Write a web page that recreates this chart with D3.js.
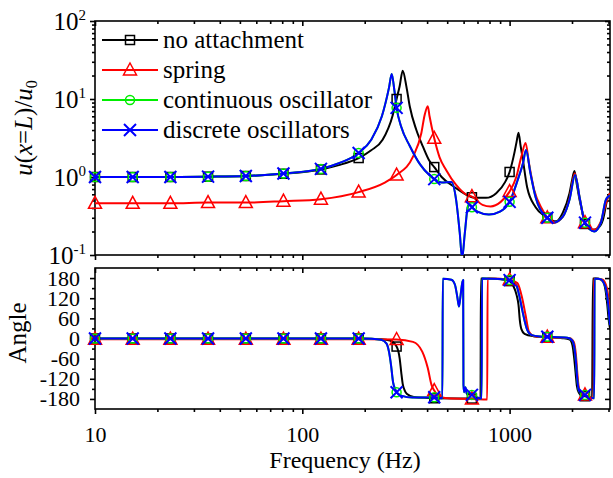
<!DOCTYPE html>
<html>
<head>
<meta charset="utf-8">
<script src="https://cdn.jsdelivr.net/npm/d3@7"></script>
<style>
  html, body { margin: 0; padding: 0; background: #fff; }
  svg { display: block; }
</style>
</head>
<body>
<svg id="chart" width="613" height="478" font-family="'Liberation Serif', 'Times New Roman', Tinos, 'DejaVu Serif', serif"></svg>
<script>
// ---- Series: [frequency (Hz), value] ----
const seriesNames = ["no attachment", "spring", "continuous oscillator", "discrete oscillators"];
const seriesColors = ["#000000", "#ff0000", "#00ee00", "#0000ff"];

// Frequencies carrying a symbol on every curve
const markerFreqs = [10, 15.2, 23.1, 35.1, 53.4, 81.1, 123, 187, 285, 433, 658, 1000, 1520, 2310];

// Normalised tip displacement u(x=L)/u0
const ampNoAttachment = [
  [10,1.00],[15.2,1.00],[23.1,1.00],[35.1,1.01],[53.4,1.03],[81.1,1.10],[123,1.25],[150,1.42],[187,1.75],
  [215,2.2],[244,3.0],[273,6.2],[285,10.0],[295,14.7],[305,23],[318,14.3],[330,8.0],[355,4.0],[382,2.45],
  [411,1.6],[433,1.34],[470,1.0],[543,0.74],[620,0.59],[658,0.55],[700,0.54],[770,0.54],[862,0.62],
  [951,0.86],[1000,1.16],[1057,2.1],[1080,2.8],[1104,3.7],[1130,2.5],[1154,1.8],[1215,0.74],[1335,0.41],
  [1494,0.31],[1520,0.30],[1672,0.27],[1806,0.35],[1945,0.62],[2000,0.9],[2055,1.19],[2110,0.8],
  [2175,0.51],[2240,0.36],[2310,0.25],[2520,0.21],[2662,0.22],[2816,0.28],[2980,0.55],[3050,0.62]
];
const ampSpring = [
  [10,0.46],[15.2,0.46],[23.1,0.46],[35.1,0.47],[53.4,0.47],[81.1,0.49],[123,0.52],[187,0.64],[250,0.85],
  [285,1.06],[342,1.82],[375,3.63],[389,6.2],[403,8.1],[411,6.0],[433,3.13],[459,1.8],[494,1.23],
  [552,0.79],[620,0.59],[658,0.56],[740,0.44],[810,0.42],[906,0.48],[1000,0.65],[1077,1.0],[1138,1.8],
  [1194,2.73],[1240,1.5],[1314,0.68],[1440,0.38],[1520,0.30],[1640,0.26],[1806,0.31],[1945,0.53],
  [2062,1.12],[2175,0.55],[2310,0.26],[2560,0.21],[2757,0.27],[2980,0.55],[3050,0.62]
];
const ampContinuous = [
  [10,1.00],[15.2,1.00],[23.1,1.00],[35.1,1.01],[53.4,1.03],[81.1,1.11],[123,1.27],[150,1.5],[187,2.03],
  [215,3.0],[242,6.0],[262,14],[270,20.9],[278,13],[285,7.7],[300,4.4],[330,2.5],[370,1.45],[411,1.05],
  [433,0.94],[470,0.85],[523,0.86],[552,0.51],[575,0.19],[590,0.09],[608,0.19],[630,0.42],[645,0.44],
  [658,0.41],[700,0.36],[795,0.33],[898,0.36],[1000,0.48],[1093,0.91],[1160,1.5],[1200,2.22],[1260,1.12],
  [1335,0.55],[1494,0.31],[1520,0.30],[1625,0.26],[1806,0.31],[1945,0.51],[2070,1.06],[2175,0.55],
  [2310,0.26],[2560,0.20],[2757,0.26],[2912,0.51],[3050,0.58]
];
const ampDiscrete = [
  [10,1.00],[15.2,1.00],[23.1,1.00],[35.1,1.01],[53.4,1.03],[81.1,1.11],[123,1.27],[150,1.5],[187,2.03],
  [215,3.0],[242,6.0],[262,14],[270,20.9],[278,13],[285,7.7],[300,4.4],[330,2.5],[370,1.45],[411,1.05],
  [433,0.94],[470,0.85],[523,0.86],[552,0.51],[575,0.19],[590,0.09],[608,0.19],[630,0.42],[645,0.44],
  [658,0.41],[700,0.36],[795,0.33],[898,0.36],[1000,0.48],[1093,0.91],[1160,1.5],[1200,2.22],[1260,1.12],
  [1335,0.55],[1494,0.31],[1520,0.30],[1625,0.26],[1806,0.31],[1945,0.51],[2070,1.06],[2175,0.55],
  [2310,0.26],[2560,0.20],[2757,0.26],[2912,0.51],[3050,0.58]
];

// Phase angle (degrees)
const angNoAttachment = [
  [10,0],[15.2,0],[23.1,0],[35.1,0],[53.4,0],[81.1,0],[123,0],[187,0],[240,-2],[265,-6],[285,-24],
  [295,-60],[300,-100],[305,-135],[312,-155],[320,-165],[345,-174],[400,-177],[433,-178],[658,-179],
  [724,-179],[727,179],[850,178],[950,175],[1000,171],[1040,158],[1080,130],[1104,100],[1120,55],
  [1140,28],[1180,14],[1300,7],[1520,4],[1800,1],[1950,-3],[2010,-20],[2050,-60],[2080,-100],
  [2110,-140],[2160,-162],[2220,-170],[2310,-172],[2500,-179],[2522,179],[2700,178],[2820,170],
  [2900,145],[2960,100],[3000,60],[3050,30]
];
const angSpring = [
  [10,-2],[15.2,-2],[23.1,-2],[35.1,-2],[53.4,-2],[81.1,-2],[123,-2],[187,-2],[285,-3],[342,-10],
  [379,-39],[403,-88],[420,-138],[433,-155],[459,-173],[520,-179],[658,-180],[780,-182],[783,179],
  [900,178],[1000,175],[1090,165],[1150,120],[1194,70],[1240,20],[1314,7],[1520,4],[1950,1],
  [2040,-10],[2090,-50],[2120,-100],[2150,-140],[2200,-162],[2310,-168],[2540,-178],[2550,179],
  [2800,176],[2950,150],[3050,70]
];
const angContinuous = [
  [10,0],[15.2,0],[23.1,0],[35.1,0],[53.4,0],[81.1,0],[123,0],[187,0],[215,-1],[240,-4],[255,-15],
  [262,-40],[268,-80],[274,-130],[280,-150],[285,-160],[300,-170],[340,-176],[433,-175],[474,-178],
  [476,178],[524,175],[545,160],[560,122],[570,95],[580,128],[592,168],[597,174],[599,-138],
  [604,-160],[612,-145],[622,-165],[658,-168],[700,-176],[733,-179],[736,179],[900,177],[1000,174],
  [1077,159],[1120,120],[1155,80],[1217,25],[1280,10],[1400,6],[1520,5],[1900,2],[2000,-5],[2050,-25],
  [2090,-70],[2120,-120],[2160,-155],[2230,-166],[2310,-168],[2450,-176],[2560,-178],[2570,179],
  [2760,176],[2850,165],[2912,150],[2980,110],[3050,40]
];
const angDiscrete = [
  [10,0],[15.2,0],[23.1,0],[35.1,0],[53.4,0],[81.1,0],[123,0],[187,0],[215,-1],[240,-4],[255,-15],
  [262,-40],[268,-80],[274,-130],[280,-150],[285,-160],[300,-170],[340,-176],[433,-175],[474,-178],
  [476,178],[524,175],[545,160],[560,122],[570,95],[580,128],[592,168],[597,174],[599,-138],
  [604,-160],[612,-145],[622,-165],[658,-168],[700,-176],[733,-179],[736,179],[900,177],[1000,174],
  [1077,159],[1120,120],[1155,80],[1217,25],[1280,10],[1400,6],[1520,5],[1900,2],[2000,-5],[2050,-25],
  [2090,-70],[2120,-120],[2160,-155],[2230,-166],[2310,-168],[2450,-176],[2560,-178],[2570,179],
  [2760,176],[2850,165],[2912,150],[2980,110],[3050,40]
];

// Tick labels
const freqTicks = [10, 100, 1000];
const ampTicks = [0.1, 1, 10, 100];
const angleTicks = [-180, -120, -60, 0, 60, 120, 180];

// ---- Layout ----
const FONT = "'Liberation Serif', 'Times New Roman', Tinos, 'DejaVu Serif', serif";
const svg = d3.select("#chart");
const L = 95, R = 610;
const aTop = 21, aBot = 255;      // amplitude panel
const pTop = 268, pBot = 409;     // phase panel

const x = d3.scaleLog().domain([10, 3050]).range([L, R]);
const yAmp = d3.scaleLog().domain([0.1, 100]).range([aBot, aTop]);
const yAng = d3.scaleLinear().domain([-210, 210]).range([pBot, pTop]);

const freqMinor = [];
[10, 100, 1000].forEach(d => { for (let k = 2; k <= 9; k++) if (d * k <= 3050) freqMinor.push(d * k); });
const ampMinor = [];
[0.1, 1, 10].forEach(d => { for (let k = 2; k <= 9; k++) ampMinor.push(d * k); });
const angleMinor = [-150, -90, -30, 30, 90, 150];

const defs = svg.append("defs");
defs.append("clipPath").attr("id", "clipAmp").append("rect")
  .attr("x", L).attr("y", aTop).attr("width", R - L).attr("height", aBot - aTop);
defs.append("clipPath").attr("id", "clipAng").append("rect")
  .attr("x", L).attr("y", pTop).attr("width", R - L).attr("height", pBot - pTop);

// ---- Axes: x ticks all hang downward, y ticks all point left ----
function xAxisAt(y, withLabels) {
  const g = svg.append("g").attr("transform", `translate(0,${y})`);
  g.append("g").call(d3.axisBottom(x).tickValues(freqMinor).tickSize(3).tickSizeOuter(0).tickFormat(""));
  const major = g.append("g").call(d3.axisBottom(x).tickValues(freqTicks).tickSize(5).tickSizeOuter(0)
    .tickPadding(12).tickFormat(withLabels ? d3.format("d") : ""));
  g.selectAll("g").attr("font-family", FONT);
  g.selectAll(".domain").remove();
  g.selectAll("line").attr("stroke", "#000").attr("stroke-width", 1.6);
  major.selectAll("text").attr("font-size", 22).attr("fill", "#000");
  return g;
}
function yAxisAt(xPos, scale, major, minor, padding, labelFn) {
  const g = svg.append("g").attr("transform", `translate(${xPos},0)`);
  g.append("g").call(d3.axisLeft(scale).tickValues(minor).tickSize(3).tickSizeOuter(0).tickFormat(""));
  const mj = g.append("g").call(d3.axisLeft(scale).tickValues(major).tickSize(5).tickSizeOuter(0)
    .tickPadding(padding).tickFormat(""));
  g.selectAll("g").attr("font-family", FONT);
  g.selectAll(".domain").remove();
  g.selectAll("line").attr("stroke", "#000").attr("stroke-width", 1.6);
  if (labelFn) mj.selectAll("text").attr("fill", "#000").each(labelFn);
  else mj.selectAll("text").remove();
  return g;
}

// amplitude panel
xAxisAt(aTop, false);
xAxisAt(aBot, false);
yAxisAt(L, yAmp, ampTicks, ampMinor, 4, function (d) {
  const t = d3.select(this).attr("font-size", 25).attr("dy", "0.32em");
  const e = Math.round(Math.log10(d));
  t.append("tspan").text("10");
  t.append("tspan").attr("font-size", 15).attr("dy", -10).text(String(e));
});
yAxisAt(R, yAmp, ampTicks, ampMinor, 4, null);

// phase panel
xAxisAt(pTop, false);
xAxisAt(pBot, true);
yAxisAt(L, yAng, angleTicks, angleMinor, 10, function (d) {
  d3.select(this).attr("font-size", 22).text(String(d));
});
yAxisAt(R, yAng, angleTicks, angleMinor, 10, null);

// frames
[[aTop, aBot], [pTop, pBot]].forEach(([t, b]) => {
  svg.append("rect").attr("x", L).attr("y", t).attr("width", R - L).attr("height", b - t)
    .attr("fill", "none").attr("stroke", "#000").attr("stroke-width", 1.6);
});

// ---- Curves ----
const ampSeries = [ampNoAttachment, ampSpring, ampContinuous, ampDiscrete];
const angSeries = [angNoAttachment, angSpring, angContinuous, angDiscrete];

function drawPanel(list, yScale, clipId) {
  const g = svg.append("g").attr("clip-path", `url(#${clipId})`);
  const line = d3.line().x(d => x(d[0])).y(d => yScale(d[1])).curve(d3.curveMonotoneX);
  list.forEach((data, i) => {
    g.append("path").datum(data).attr("d", line).attr("fill", "none")
      .attr("stroke", seriesColors[i]).attr("stroke-width", 2).attr("stroke-linejoin", "round");
  });
  const mg = svg.append("g");
  list.forEach((data, i) => {
    const pts = data.filter(d => markerFreqs.includes(d[0]));
    pts.forEach(d => drawMarker(mg, i, x(d[0]), yScale(d[1])));
  });
}

function drawMarker(g, i, cx, cy) {
  const c = seriesColors[i];
  if (i === 0) {
    g.append("rect").attr("x", cx - 4.5).attr("y", cy - 4.5).attr("width", 9).attr("height", 9)
      .attr("fill", "none").attr("stroke", c).attr("stroke-width", 1.5);
  } else if (i === 1) {
    g.append("path").attr("d", `M${cx},${cy - 7}L${cx + 6.5},${cy + 5}L${cx - 6.5},${cy + 5}Z`)
      .attr("fill", "none").attr("stroke", c).attr("stroke-width", 1.5);
  } else if (i === 2) {
    g.append("circle").attr("cx", cx).attr("cy", cy).attr("r", 4.5)
      .attr("fill", "none").attr("stroke", c).attr("stroke-width", 1.5);
  } else {
    g.append("path").attr("d", `M${cx - 6},${cy - 6}L${cx + 6},${cy + 6}M${cx - 6},${cy + 6}L${cx + 6},${cy - 6}`)
      .attr("stroke", c).attr("stroke-width", 2);
  }
}

drawPanel(ampSeries, yAmp, "clipAmp");
drawPanel(angSeries, yAng, "clipAng");

// ---- Legend ----
const legend = svg.append("g");
seriesNames.forEach((name, i) => {
  const ly = 40 + i * 30;
  legend.append("line").attr("x1", 102).attr("x2", 158).attr("y1", ly).attr("y2", ly)
    .attr("stroke", seriesColors[i]).attr("stroke-width", 2);
  drawMarker(legend, i, 130, ly);
  legend.append("text").attr("x", 163).attr("y", ly + 8).attr("font-size", 25)
    .attr("font-family", FONT).text(name);
});

// ---- Axis titles ----
const yt = svg.append("text").attr("transform", "translate(32,128) rotate(-90)")
  .attr("text-anchor", "middle").attr("font-size", 25).attr("font-family", FONT);
yt.append("tspan").attr("font-style", "italic").text("u");
yt.append("tspan").text("(");
yt.append("tspan").attr("font-style", "italic").text("x");
yt.append("tspan").text("=");
yt.append("tspan").attr("font-style", "italic").text("L");
yt.append("tspan").text(")/");
yt.append("tspan").attr("font-style", "italic").text("u");
yt.append("tspan").attr("font-size", 16).attr("dy", 5).text("0");

svg.append("text").attr("transform", "translate(26,333) rotate(-90)")
  .attr("text-anchor", "middle").attr("font-size", 25).attr("font-family", FONT).text("Angle");

svg.append("text").attr("x", 345).attr("y", 468).attr("text-anchor", "middle")
  .attr("font-size", 24).attr("font-family", FONT).text("Frequency (Hz)");
</script>
</body>
</html>
